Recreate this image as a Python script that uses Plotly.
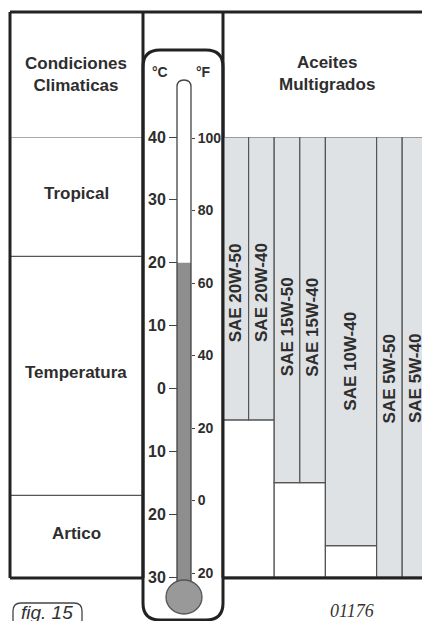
import plotly.graph_objects as go

# ---------------- data ----------------
oils = ["SAE 20W-50", "SAE 20W-40", "SAE 15W-50", "SAE 15W-40",
        "SAE 10W-40", "SAE 5W-50", "SAE 5W-40"]
oil_min_c = [-5, -5, -15, -15, -25, -30, -30]
oil_max_c = [40, 40, 40, 40, 40, 40, 40]
oil_group = ["20W", "20W", "15W", "15W", "10W", "5W", "5W"]

zones = ["Tropical", "Temperatura", "Artico"]
zone_top_c = [40, 21, -17]
zone_bottom_c = [21, -17, -30]

mercury_c = 20
celsius_ticks = [40, 30, 20, 10, 0, -10, -20, -30]
fahrenheit_ticks = [100, 80, 60, 40, 20, 0, -20]

# ---------------- layout constants ----------------
W, H = 422, 621
oil_width = [1, 1, 1, 1, 2, 1, 1]   # relative column widths (style)
LABEL_POS = 0.55                     # label position down from bar top (fraction)


def px(x):
    return x / W


def py(y):
    return 1 - y / H


DARK = "#222222"
TXT = "#2e2e2e"
GRID = "#555555"
BARFILL = "#dfe2e5"
FONT = "Liberation Sans"

centers, edge = [], 0.0
for w in oil_width:
    centers.append(edge + w / 2)
    edge += w

fig = go.Figure()

# white cells below each viscosity group
groups = []
for i, g in enumerate(oil_group):
    if groups and groups[-1]["name"] == g:
        groups[-1]["idx"].append(i)
    else:
        groups.append({"name": g, "idx": [i]})
gx, gw, gbase, gh = [], [], [], []
for g in groups:
    lo = min(oil_min_c[i] for i in g["idx"])
    if lo <= celsius_ticks[-1]:
        continue
    left = centers[g["idx"][0]] - oil_width[g["idx"][0]] / 2
    width = sum(oil_width[i] for i in g["idx"])
    gx.append(left + width / 2)
    gw.append(width)
    gbase.append(celsius_ticks[-1])
    gh.append(lo - celsius_ticks[-1])
fig.add_trace(go.Bar(x=gx, y=gh, base=gbase, width=gw,
                     marker=dict(color="white", line=dict(color=GRID, width=1.2)),
                     hoverinfo="skip", showlegend=False, cliponaxis=False))

# recommended range for each oil
fig.add_trace(go.Bar(x=centers, y=[hi - lo for lo, hi in zip(oil_min_c, oil_max_c)],
                     base=oil_min_c, width=oil_width,
                     marker=dict(color=BARFILL, line=dict(color=GRID, width=1.2)),
                     hovertext=oils, showlegend=False, cliponaxis=False))

# mercury column
fig.add_trace(go.Bar(x=[0.5], y=[mercury_c + 34], base=[-34], width=[1],
                     xaxis="x2", yaxis="y",
                     marker=dict(color="#8e8e8e", line=dict(width=0)),
                     hoverinfo="skip", showlegend=False))

# invisible trace that activates the Fahrenheit axis
fig.add_trace(go.Scatter(x=[0.5], y=[50], xaxis="x2", yaxis="y2", mode="markers",
                         marker=dict(opacity=0), hoverinfo="skip", showlegend=False))

shapes = []


def line(x0, y0, x1, y1, w=3, c=DARK, layer="above"):
    shapes.append(dict(type="line", xref="paper", yref="paper",
                       x0=px(x0), y0=py(y0), x1=px(x1), y1=py(y1),
                       line=dict(color=c, width=w), layer=layer))


def rounded(x0, y0, x1, y1, r, fill, lc, lw, layer):
    p = (f"M {px(x0)},{py(y0 + r)} Q {px(x0)},{py(y0)} {px(x0 + r)},{py(y0)} "
         f"L {px(x1 - r)},{py(y0)} Q {px(x1)},{py(y0)} {px(x1)},{py(y0 + r)} "
         f"L {px(x1)},{py(y1 - r)} Q {px(x1)},{py(y1)} {px(x1 - r)},{py(y1)} "
         f"L {px(x0 + r)},{py(y1)} Q {px(x0)},{py(y1)} {px(x0)},{py(y1 - r)} Z")
    shapes.append(dict(type="path", xref="paper", yref="paper", path=p,
                       fillcolor=fill, line=dict(color=lc, width=lw), layer=layer))


# thermometer casing
rounded(143, 50, 223, 620, 17, "white", DARK, 3, "below")

# tube
tube = (f"M {px(177)},{py(585)} L {px(177)},{py(87)} Q {px(177)},{py(80)} {px(184)},{py(80)} "
        f"Q {px(191)},{py(80)} {px(191)},{py(87)} L {px(191)},{py(585)}")
shapes.append(dict(type="path", xref="paper", yref="paper", path=tube + " Z",
                   fillcolor="white", line=dict(width=0), layer="below"))
shapes.append(dict(type="path", xref="paper", yref="paper", path=tube,
                   line=dict(color="#444444", width=1.3), layer="above"))
# bulb
shapes.append(dict(type="circle", xref="paper", yref="paper",
                   x0=px(166), x1=px(202), y0=py(614), y1=py(580),
                   fillcolor="#999999", line=dict(color="#555555", width=1.3), layer="above"))

# zone separators in the first column
for t in zone_top_c:
    shapes.append(dict(type="line", xref="paper", yref="y", x0=px(10), x1=px(143),
                       y0=t, y1=t, line=dict(color=GRID, width=1.2), layer="above"))

# thick frame
line(10, 12, 422, 12)
line(10, 12, 10, 578)
line(143, 12, 143, 578)
line(223, 12, 223, 578)
line(10, 578, 143, 578)
line(223, 578, 422, 578)

# "fig. 15" box
rounded(13, 603, 82, 640, 8, "rgba(0,0,0,0)", "#444444", 1.3, "above")

ann = []
bold = dict(family=FONT, size=17, color=TXT, weight=700)


def note(x, y, text, font, xref="paper", yref="paper", **kw):
    ann.append(dict(x=x, y=y, xref=xref, yref=yref, text=text, showarrow=False,
                    xanchor="center", yanchor="middle", font=font, **kw))


note(px(76), py(75), "Condiciones<br>Climaticas", bold)
note(px(327), py(74), "Aceites<br>Multigrados", bold)
for z, t, b in zip(zones, zone_top_c, zone_bottom_c):
    note(px(76), (t + b) / 2, z, bold, yref="y", yshift=3)
for name, c, lo, hi in zip(oils, centers, oil_min_c, oil_max_c):
    note(c, hi - LABEL_POS * (hi - lo), name, bold, xref="x", yref="y", textangle=-90)
small_bold = dict(family=FONT, size=14, color=TXT, weight=700)
note(px(160), py(72), "°C", small_bold)
note(px(203), py(72), "°F", small_bold)
note(px(47), py(612), "<i>fig. 15</i>", dict(family=FONT, size=19, color="#333333"))
note(px(352), py(611), "<i>01176</i>", dict(family="Liberation Serif", size=18, color="#333333"))

ydom = [0, py(137)]
tickfont = dict(family=FONT, size=16, color=TXT, weight=700)

fig.update_layout(
    template="none",
    width=W, height=H, autosize=False,
    margin=dict(l=0, r=0, t=0, b=0, pad=0, autoexpand=False),
    paper_bgcolor="white", plot_bgcolor="rgba(0,0,0,0)",
    barmode="overlay", showlegend=False,
    xaxis=dict(domain=[px(223), 1], range=[0, (W - 223) / 25.6], anchor="y",
               visible=False, fixedrange=True, automargin=False),
    xaxis2=dict(domain=[px(177), px(191)], range=[0, 1], anchor="y",
                visible=False, fixedrange=True, automargin=False),
    yaxis=dict(domain=ydom, range=[-37.0, 40.0], anchor="free", position=px(177),
               side="left", tickmode="array", tickvals=celsius_ticks,
               ticktext=[str(abs(v)) for v in celsius_ticks],
               ticks="outside", ticklen=8, tickwidth=1.3, tickcolor="#444444",
               showgrid=False, zeroline=False, showline=False, tickfont=tickfont,
               fixedrange=True, automargin=False),
    yaxis2=dict(overlaying="y", range=[-33.24, 100.28], anchor="free", position=px(191),
                side="right", tickmode="array", tickvals=fahrenheit_ticks,
                ticktext=[str(abs(v)) for v in fahrenheit_ticks],
                ticks="outside", ticklen=3, tickwidth=1.3, tickcolor="#444444",
                showgrid=False, zeroline=False, showline=False,
                tickfont=dict(family=FONT, size=14, color=TXT, weight=700),
                fixedrange=True, automargin=False),
    shapes=shapes, annotations=ann,
)

fig.write_html("out.html", config={"displayModeBar": False},
               post_script="document.body.style.margin='0';document.body.style.overflow='hidden';")
